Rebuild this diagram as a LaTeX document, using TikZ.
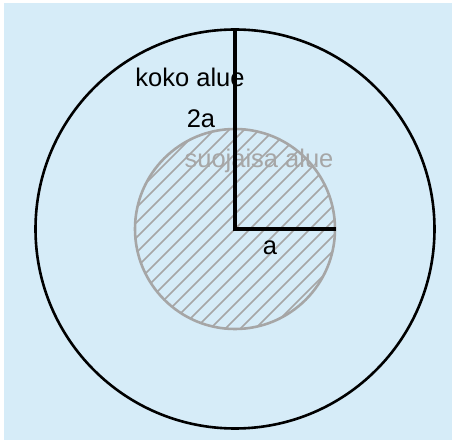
\documentclass[tikz,border=0pt]{standalone}
\usepackage{fontspec}
\setmainfont{Liberation Sans}
\definecolor{bgblue}{RGB}{214,236,248}
\definecolor{hgray}{RGB}{166,166,166}
\begin{document}
\begin{tikzpicture}[x=1pt,y=-1pt,
  lbl/.style={inner sep=0pt, font=\fontsize{25.5}{30}\selectfont},
  hatch/.style={draw=hgray, line width=1.6pt},
  radline/.style={draw=black, line width=4pt}]
\useasboundingbox (0,0) rectangle (456,441);
\fill[bgblue] (4,3) rectangle (452,440);
\coordinate (c) at (235,229);
\coordinate (top) at (235,29);
\coordinate (right) at (336,229);
% hatching of inner circle
\begin{scope}
  \clip (c) circle [radius=100pt];
  \foreach \k in {-300,-285,...,300}
    \draw[hatch] (235+\k-130,229+130) -- (235+\k+130,229-130);
\end{scope}
\draw[hgray, line width=2.6pt] (c) circle [radius=100pt];
\draw[black, line width=2.6pt] (c) circle [radius=199.5pt];
% labels
\node[lbl] (koko) at (190,77) {koko alue};
\node[lbl] (twoa) at (201,119) {2a};
\node[lbl, text=hgray] (suo) at (259,161) {suojaisa alue};
\node[lbl] (a) at (270,248) {a};
% radii
\draw[radline] (top) -- (c) -- (right);
\end{tikzpicture}
\end{document}
